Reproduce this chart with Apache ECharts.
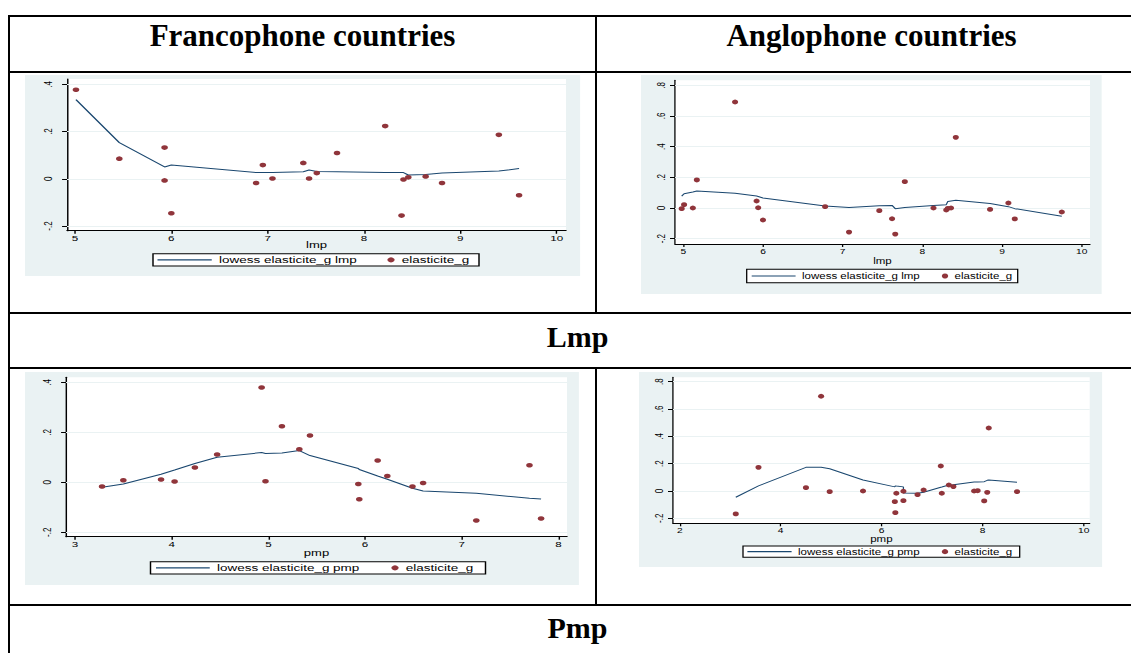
<!DOCTYPE html>
<html>
<head>
<meta charset="utf-8">
<script src="https://cdn.jsdelivr.net/npm/echarts@6/dist/echarts.min.js"></script>
<style>
  html, body { margin: 0; padding: 0; background: #fff; width: 1131px; height: 653px; overflow: hidden; position: relative; }
  .rule { position: absolute; background: #000; }
  .head { position: absolute; font-family: 'Liberation Serif', 'Times New Roman', serif; font-weight: bold;
          font-size: 30px; line-height: 30px; text-align: center; color: #000; white-space: nowrap; }
  .panel { position: absolute; transform-origin: 0 0; }
</style>
</head>
<body>
<!-- table rules -->
<div class="rule" style="left:8px;top:15px;width:1130px;height:2px"></div>
<div class="rule" style="left:8px;top:15px;width:2px;height:640px"></div>
<div class="rule" style="left:8px;top:71px;width:1130px;height:2px"></div>
<div class="rule" style="left:8px;top:312px;width:1130px;height:2px"></div>
<div class="rule" style="left:8px;top:367px;width:1130px;height:2px"></div>
<div class="rule" style="left:8px;top:604px;width:1130px;height:2px"></div>
<div class="rule" style="left:595px;top:15px;width:2px;height:298px"></div>
<div class="rule" style="left:595px;top:367px;width:2px;height:239px"></div>

<div class="head" style="left:9px;width:587px;top:21px;font-size:31px">Francophone countries</div>
<div class="head" style="left:597px;width:549px;top:21px;font-size:31px">Anglophone countries</div>
<div class="head" style="left:9px;width:1137px;top:322px">Lmp</div>
<div class="head" style="left:9px;width:1137px;top:613px">Pmp</div>

<div id="p1" class="panel"></div>
<div id="p2" class="panel"></div>
<div id="p3" class="panel"></div>
<div id="p4" class="panel"></div>

<script>
// ---- data: elasticite_g against lmp / pmp, with the lowess smooth at each x ----
const FR_LMP_X = [5.01, 5.46, 5.93, 5.93, 6.00, 6.88, 6.95, 7.05, 7.37, 7.43, 7.51, 7.72, 8.22, 8.39, 8.41, 8.46, 8.64, 8.81, 9.40, 9.61];
const FR_LMP_Y = [0.377, 0.085, 0.132, -0.007, -0.146, -0.018, 0.058, 0.001, 0.067, 0.001, 0.024, 0.109, 0.223, -0.156, -0.003, 0.006, 0.010, -0.018, 0.186, -0.070];
const FR_LMP_LOWESS = [0.335, 0.153, 0.050, 0.050, 0.058, 0.026, 0.026, 0.026, 0.030, 0.037, 0.031, 0.030, 0.026, 0.026, 0.026, 0.016, 0.018, 0.024, 0.033, 0.043];

const EN_LMP_X = [4.98, 5.01, 5.12, 5.17, 5.65, 5.92, 5.94, 6.00, 6.78, 7.08, 7.46, 7.62, 7.66, 7.78, 8.14, 8.30, 8.32, 8.36, 8.42, 8.85, 9.08, 9.16, 9.75];
const EN_LMP_Y = [-0.004, 0.022, 0.000, 0.183, 0.691, 0.046, 0.002, -0.078, 0.009, -0.157, -0.017, -0.070, -0.170, 0.172, 0.000, -0.013, -0.002, 0.000, 0.461, -0.009, 0.033, -0.071, -0.026];
const EN_LMP_LOWESS = [0.078, 0.093, 0.104, 0.111, 0.096, 0.078, 0.075, 0.065, 0.013, 0.004, 0.015, 0.017, -0.004, 0.004, 0.017, 0.022, 0.043, 0.046, 0.050, 0.030, 0.009, -0.004, -0.054];

const FR_PMP_X = [3.28, 3.50, 3.89, 4.03, 4.24, 4.47, 4.93, 4.97, 5.14, 5.32, 5.43, 5.93, 5.94, 6.13, 6.23, 6.49, 6.60, 7.15, 7.70, 7.82];
const FR_PMP_Y = [-0.017, 0.008, 0.011, 0.003, 0.059, 0.111, 0.379, 0.004, 0.224, 0.132, 0.187, -0.007, -0.068, 0.087, 0.025, -0.017, -0.003, -0.153, 0.068, -0.145];
const FR_PMP_LOWESS = [-0.020, -0.007, 0.032, 0.049, 0.075, 0.100, 0.119, 0.115, 0.117, 0.127, 0.107, 0.055, 0.051, 0.025, 0.012, -0.024, -0.035, -0.044, -0.064, -0.067];

const EN_PMP_X = [3.11, 3.56, 4.50, 4.80, 4.97, 5.63, 6.26, 6.27, 6.29, 6.43, 6.43, 6.71, 6.83, 7.17, 7.19, 7.33, 7.42, 7.83, 7.90, 8.03, 8.09, 8.12, 8.68];
const EN_PMP_Y = [-0.168, 0.173, 0.024, 0.693, -0.005, 0.000, -0.078, -0.159, -0.017, -0.002, -0.071, -0.027, 0.007, 0.183, -0.017, 0.044, 0.032, 0.000, 0.002, -0.073, -0.010, 0.461, -0.005];
const EN_PMP_LOWESS = [-0.046, 0.037, 0.173, 0.173, 0.163, 0.080, 0.030, 0.037, 0.036, 0.030, -0.015, -0.017, -0.010, 0.027, 0.029, 0.044, 0.046, 0.066, 0.066, 0.068, 0.078, 0.080, 0.063];

// ---- tick labels ----
const LMP_TICKS = [5, 6, 7, 8, 9, 10];
const FR_PMP_TICKS = [3, 4, 5, 6, 7, 8];
const EN_PMP_TICKS = [2, 4, 6, 8, 10];
const FR_Y_TICKS = [-0.2, 0, 0.2, 0.4];
const EN_Y_TICKS = [-0.2, 0, 0.2, 0.4, 0.6, 0.8];

const Y_NAME = 'elasticite_g';

// ---- panel layout (page pixels); each graph is drawn narrow and widened by s ----
const PANELS = [
  { id: 'p1', s: 1.45, bg: { x: 25, y: 75, w: 555, h: 201 }, plot: { x: 67, y: 79, r: 566, b: 230.7 },
    xr: [4.917, 10.097], yr: [-0.220, 0.4225], xt: LMP_TICKS, yt: FR_Y_TICKS, xName: 'lmp',
    xs: FR_LMP_X, ys: FR_LMP_Y, fit: FR_LMP_LOWESS,
    leg: { x: 153, y: 253.7, r: 479, b: 266, line: 157.5, text: 219, dot: 391 },
    dot: 4.6, lf: 9.3, ym: 9.5, ng: 10, tl: 3.4 },
  { id: 'p2', s: 1.28, bg: { x: 641, y: 75, w: 461, h: 218.5 }, plot: { x: 675, y: 80.3, r: 1090, b: 244 },
    xr: [4.896, 10.104], yr: [-0.2345, 0.8326], xt: LMP_TICKS, yt: EN_Y_TICKS, xName: 'lmp',
    xs: EN_LMP_X, ys: EN_LMP_Y, fit: EN_LMP_LOWESS,
    leg: { x: 746.7, y: 269.3, r: 1017.7, b: 282.7, line: 751.7, text: 802, dot: 945 },
    dot: 4.8, lf: 9, ym: 6.4, ng: 12.5, tl: 3.9 },
  { id: 'p3', s: 1.45, bg: { x: 25, y: 372, w: 554, h: 213 }, plot: { x: 66, y: 377.3, r: 567, b: 536.7 },
    xr: [2.907, 8.088], yr: [-0.2176, 0.42], xt: FR_PMP_TICKS, yt: FR_Y_TICKS, xName: 'pmp',
    xs: FR_PMP_X, ys: FR_PMP_Y, fit: FR_PMP_LOWESS,
    leg: { x: 150.5, y: 561.7, r: 485.5, b: 574, line: 156, text: 217, dot: 395 },
    dot: 4.6, lf: 9.3, ym: 9, ng: 11.5, tl: 3.4 },
  { id: 'p4', s: 1.28, bg: { x: 639.3, y: 372, w: 463.4, h: 195.3 }, plot: { x: 673.3, y: 377.3, r: 1090, b: 523.3 },
    xr: [1.867, 10.119], yr: [-0.2366, 0.832], xt: EN_PMP_TICKS, yt: EN_Y_TICKS, xName: 'pmp',
    xs: EN_PMP_X, ys: EN_PMP_Y, fit: EN_PMP_LOWESS,
    leg: { x: 743.3, y: 546, r: 1020, b: 557.3, line: 747.7, text: 798.3, dot: 945.3 },
    dot: 4.8, lf: 9, ym: 6.4, ng: 11.3, tl: 3.9 }
];

const FONT = "'Liberation Sans', Arial, sans-serif";
const BG = '#EAF2F3';
const NAVY = '#1A476F';
const MAROON = '#90353B';

// Stata-style numbers: .4, -.2, 0
function stataNum(v) {
  const s = String(Math.round(v * 10) / 10);
  return s.replace(/^(-?)0\./, '$1.');
}

function drawPanel(p) {
  const s = p.s;
  const bx = v => (v - p.bg.x) / s;
  const by = v => v - p.bg.y;
  const el = document.getElementById(p.id);
  el.style.left = p.bg.x + 'px';
  el.style.top = p.bg.y + 'px';
  el.style.width = (p.bg.w / s) + 'px';
  el.style.height = p.bg.h + 'px';
  el.style.transform = 'scaleX(' + s + ')';

  const chart = echarts.init(el, null, { renderer: 'svg' });
  const fitName = 'lowess elasticite_g ' + p.xName;
  const legMid = by((p.leg.y + p.leg.b) / 2);
  const legText = { fontSize: p.lf, color: '#000', fontFamily: FONT, lineHeight: 11 };

  const axisCommon = {
    type: 'value',
    axisLine: { show: true, onZero: false, lineStyle: { color: '#000', width: 1 } },
    splitLine: { show: false },
    axisLabel: { color: '#000', fontFamily: FONT, fontSize: 8, lineHeight: 8, formatter: stataNum }
  };

  chart.setOption({
    animation: false,
    backgroundColor: BG,
    grid: {
      left: bx(p.plot.x), top: by(p.plot.y),
      width: (p.plot.r - p.plot.x) / s, height: p.plot.b - p.plot.y,
      show: true, backgroundColor: '#fff', borderWidth: 0,
      containLabel: false, outerBoundsMode: 'none'
    },
    xAxis: Object.assign({}, axisCommon, {
      min: p.xr[0], max: p.xr[1],
      name: p.xName, nameLocation: 'middle', nameGap: p.ng, nameMoveOverlap: false,
      nameTextStyle: { color: '#000', fontFamily: FONT, fontSize: 9, lineHeight: 9 },
      axisTick: { show: true, customValues: p.xt, length: 3, lineStyle: { color: '#000' } },
      axisLabel: Object.assign({}, axisCommon.axisLabel, { customValues: p.xt, margin: 3 })
    }),
    yAxis: Object.assign({}, axisCommon, {
      min: p.yr[0], max: p.yr[1],
      axisTick: { show: true, customValues: p.yt, length: p.tl, lineStyle: { color: '#000' } },
      axisLabel: Object.assign({}, axisCommon.axisLabel, { customValues: p.yt, rotate: 90, margin: p.ym })
    }),
    legend: [
      // plain line key for the smooth
      { data: [{ name: fitName, icon: 'rect' }], left: bx(p.leg.line), top: legMid - 5.5, padding: 0,
        itemWidth: (p.leg.text - p.leg.line) / s - 5, itemHeight: 1.2,
        selectedMode: false, textStyle: legText },
      { data: [Y_NAME], left: bx(p.leg.dot) - 2.5, top: legMid - 5.5, padding: 0,
        itemWidth: 5, itemHeight: 5, selectedMode: false, textStyle: legText }
    ],
    graphic: [{
      type: 'rect', silent: true, z: 1,
      shape: { x: bx(p.leg.x), y: by(p.leg.y), width: (p.leg.r - p.leg.x) / s, height: p.leg.b - p.leg.y },
      style: { fill: '#fff', stroke: '#000', lineWidth: 1 }
    }],
    series: [
      {
        type: 'line', name: fitName,
        data: p.xs.map((x, i) => [x, p.fit[i]]),
        symbol: 'none', showSymbol: false,
        lineStyle: { color: NAVY, width: 1 },
        itemStyle: { color: NAVY },
        z: 3,
        markLine: {
          silent: true, z: 1, symbol: ['none', 'none'], label: { show: false },
          lineStyle: { color: BG, type: 'solid', width: 1 },
          emphasis: { disabled: true },
          data: p.yt.map(v => ({ yAxis: v }))
        }
      },
      {
        type: 'scatter', name: Y_NAME,
        data: p.xs.map((x, i) => [x, p.ys[i]]),
        symbol: 'circle', symbolSize: p.dot,
        itemStyle: { color: MAROON, opacity: 1 },
        z: 4
      }
    ]
  });
}

PANELS.forEach(drawPanel);
</script>
</body>
</html>
